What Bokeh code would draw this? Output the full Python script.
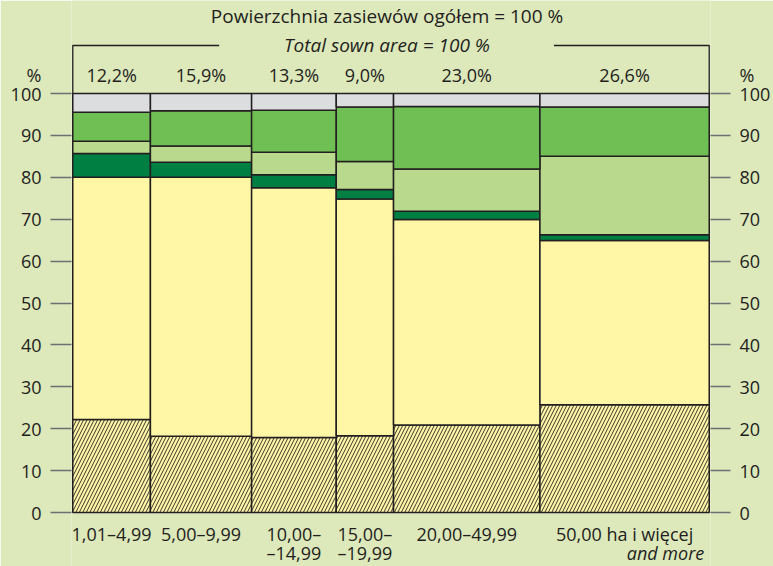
from bokeh.plotting import figure
from bokeh.models import Range1d, LinearAxis, FixedTicker, ColumnDataSource
from bokeh.core.properties import value
from bokeh.embed import file_html
from bokeh.resources import INLINE

# ---------------- data ----------------
group_line1 = ["1,01–4,99", "5,00–9,99", "10,00–", "15,00–", "20,00–49,99", "50,00 ha i więcej"]
group_line2 = ["", "", "–14,99", "–19,99", "", ""]
group_line2_italic = "and more"
area_share = [12.2, 15.9, 13.3, 9.0, 23.0, 26.6]        # % of total sown area (bar widths)

seg_hatched = [22.2, 18.2, 17.9, 18.3, 20.9, 25.7]
seg_yellow = [57.8, 61.8, 59.6, 56.5, 49.0, 39.2]
seg_dark = [5.7, 3.6, 3.1, 2.3, 2.0, 1.4]
seg_light = [2.9, 3.9, 5.4, 6.7, 10.1, 18.7]
seg_medium = [6.9, 8.4, 10.0, 13.0, 14.9, 11.8]
seg_grey = [4.5, 4.1, 4.0, 3.2, 3.1, 3.2]

y_ticks = list(range(0, 101, 10))
unit_label = "%"

title_pl = "Powierzchnia zasiewów ogółem = 100 %"
title_en = "Total sown area = 100 %"

# ---------------- style ----------------
BG = "#dde8bb"
INK = "#231f20"
TICK = "#6d6e71"
FONT = "Open Sans"
FS = "18px"
FS_TITLE = "19px"
C_HATCH = "#fff7a6"
C_YELLOW = "#fff7a6"
C_DARK = "#007f43"
C_LIGHT = "#b9da8c"
C_MEDIUM = "#70bf54"
C_GREY = "#dcdddf"

# layout (pixel geometry -> data range)
W, H = 773, 566
K = 4.19           # px per unit on y
Y0_PX = 512        # canvas y of value 0
y_top = Y0_PX / K
y_bot = -(H - Y0_PX) / K

def ypx(px):
    return (Y0_PX - px) / K

p = figure(width=W, height=H, output_backend="svg", toolbar_location=None,
           x_range=Range1d(-0.2, 100.2), y_range=Range1d(y_bot, y_top),
           x_axis_type=None, title=None,
           min_border_left=71, min_border_right=61, min_border_top=0, min_border_bottom=0)
p.background_fill_color = BG
p.border_fill_color = BG
p.outline_line_color = None
p.grid.visible = False

# ---------------- bars ----------------
lefts, rights = [], []
acc = 0.0
for w in area_share:
    lefts.append(acc)
    acc += w
    rights.append(acc)
centers = [(a + b) / 2 for a, b in zip(lefts, rights)]

series = [
    (seg_hatched, C_HATCH, True),
    (seg_yellow, C_YELLOW, False),
    (seg_dark, C_DARK, False),
    (seg_light, C_LIGHT, False),
    (seg_medium, C_MEDIUM, False),
    (seg_grey, C_GREY, False),
]
base = [0.0] * len(area_share)
for vals, col, hatched in series:
    tops = [b + v for b, v in zip(base, vals)]
    src = ColumnDataSource(dict(left=lefts, right=rights, bottom=list(base), top=tops))
    kw = dict(fill_color=col, line_color=INK, line_width=1.5)
    if hatched:
        kw.update(hatch_pattern="/", hatch_color=INK, hatch_scale=7, hatch_weight=0.9)
    p.quad(left="left", right="right", bottom="bottom", top="top", source=src, **kw)
    base = tops

# ---------------- axes ----------------
unit_pos = round(ypx(74), 1)

def style_axis(ax, tick_len, standoff):
    # major ticks carry the labels (incl. the "%" unit); visible tick marks are the minor ones
    ax.ticker = FixedTicker(ticks=y_ticks + [unit_pos], minor_ticks=y_ticks)
    ax.major_label_overrides = {unit_pos: unit_label}
    ax.axis_line_color = None
    ax.major_tick_in = 0
    ax.major_tick_out = tick_len
    ax.major_tick_line_color = None
    ax.minor_tick_in = 0
    ax.minor_tick_out = tick_len
    ax.minor_tick_line_color = TICK
    ax.minor_tick_line_width = 1.3
    ax.major_label_standoff = standoff
    ax.major_label_text_font = FONT
    ax.major_label_text_font_size = FS
    ax.major_label_text_color = INK

style_axis(p.yaxis[0], 21, 9)
right_ax = LinearAxis()
style_axis(right_ax, 20, 9)
p.add_layout(right_ax, "right")

# ---------------- texts ----------------
txt = dict(text_font=value(FONT), text_font_size=FS, text_color=INK,
           text_align="center", text_baseline="middle")

share_labels = [f"{w:.1f}".replace(".", ",") + "%" for w in area_share]
p.text(x=centers, y=[ypx(74)] * len(centers), text=share_labels, **txt)

ttl = dict(txt, text_font_size=FS_TITLE)
p.text(x=[50], y=[ypx(15)], text=[title_pl], x_offset=-4, **ttl)
p.text(x=[50], y=[ypx(44)], text=[title_en], x_offset=-4,
       text_font_style="italic", **ttl)

yb = ypx(45)
p.multi_line(xs=[[0, 0, 23.0], [75.6, 100, 100]], ys=[[100, yb, yb], [yb, yb, 100]],
             line_color=INK, line_width=1.3)

p.text(x=centers, y=[ypx(533)] * len(centers), text=group_line1, **txt)
p.text(x=centers, y=[ypx(552)] * len(centers), text=group_line2, **txt)
p.text(x=[100], y=[ypx(552)], text=[group_line2_italic], x_offset=-5,
       text_font=value(FONT), text_font_size=FS, text_color=INK,
       text_align="right", text_baseline="middle", text_font_style="italic")

open("out.html", "w").write(file_html(p, INLINE))
